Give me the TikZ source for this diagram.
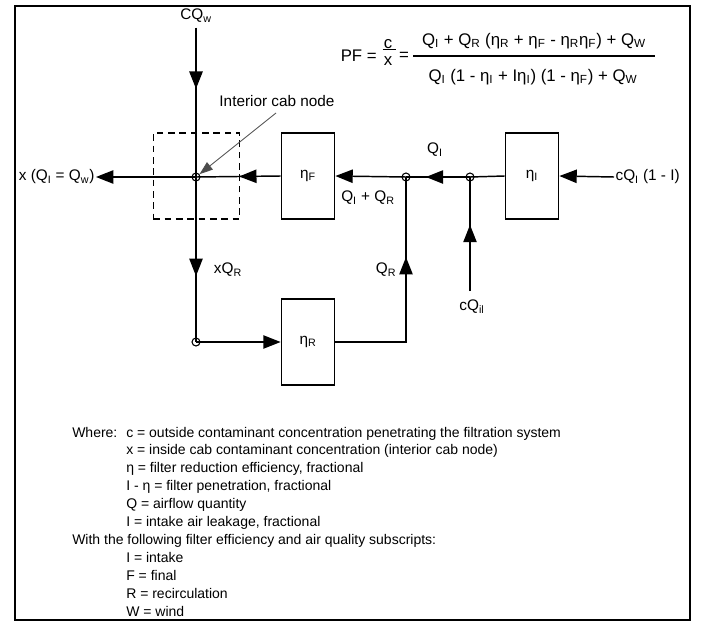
\documentclass[tikz,border=0pt]{standalone}
\usepackage{fontspec}
\setmainfont{Liberation Sans}
\usetikzlibrary{arrows.meta, positioning, decorations.markings}
\newcommand{\Qs}[1]{Q\textsubscript{#1}}
\newcommand{\Et}[1]{η\textsubscript{#1}}

\begin{document}
\begin{tikzpicture}[x=0.75pt, y=-0.75pt,
    font=\fontsize{11.5}{13}\selectfont,
    filt/.style={draw, line width=1.1pt, minimum width=40pt, minimum height=64.5pt, inner sep=0pt},
    junc/.style={circle, draw, line width=0.8pt, minimum size=6pt, inner sep=0pt},
    flow/.style={line width=1.1pt},
    endarr/.style={-{Triangle[length=13pt,width=10pt]}},
    midarr/.style={postaction={decorate}, decoration={markings,
        mark=at position #1 with {\arrow{Triangle[length=13pt,width=10pt]}}}},
    formula/.style={font=\fontsize{12.6}{14}\selectfont, inner sep=0pt},
    legend/.style={anchor=base west, font=\fontsize{10.5}{14}\selectfont, inner sep=0pt}]
\useasboundingbox (0,0) rectangle (703,621);
\begin{scope}
\clip (15,6) rectangle (690,620);

% filters and junctions
\node[filt] (etaF) at (308,176) {\Et{F}};
\node[filt] (etaI) at (532,176) {\Et{I}};
\node[filt] (etaR) at (308,342) {\Et{R}};
\node[draw, dashed, line width=0.9pt, dash pattern=on 5pt off 3.5pt,
      minimum width=65pt, minimum height=64.5pt] (cabzone) at (196.5,176) {};
\node[junc] (cab) at (196,177) {};
\node[junc] (mix) at (406,177) {};
\node[junc] (leak) at (470,177) {};
\node[junc] (split) at (196,342) {};

% labels
\node (cqw) at (196,16) {C\Qs{w}};
\node (cablab) at (277,101) {Interior cab node};
\node[anchor=east, inner sep=1pt] (outlab) at (96,177) {x (\Qs{I} = \Qs{w})};
\node[anchor=west, inner sep=1pt] (inlab) at (614,177) {c\Qs{I} (1 - I)};
\node (mixlab) at (368,198) {\Qs{I} + \Qs{R}};
\node (qilab) at (435,150) {\Qs{I}};
\node (xqrlab) at (228,270) {x\Qs{R}};
\node (qrlab) at (386,270) {\Qs{R}};
\node (cqil) at (472,307) {c\Qs{il}};
\coordinate (ilin) at (470,291);

% protection factor
\node[formula, anchor=east] (pfeq) at (377,56) {PF =};
\node[formula] (pfc) at (388,44) {c};
\node[formula] (pfx) at (388,61) {x};
\draw[line width=0.6pt] (pfc.south west) ++(-1,1) -- ++(13,0);
\node[formula] (pfeq2) at (404,56) {=};
\node[formula] (num) at (534,41) {\Qs{I} + \Qs{R} (\Et{R} + \Et{F} - \Et{R}\Et{F}) + \Qs{W}};
\node[formula] (den) at (533,77) {\Qs{I} (1 - \Et{I} + I\Et{I}) (1 - \Et{F}) + \Qs{W}};
\coordinate (barL) at (413,56);
\coordinate (barR) at (655,56);
\draw[line width=1pt] (barL) -- (barR);

% air flows
\draw[flow, midarr=0.41] (cqw.south) -- (cab.center);
\draw[flow, endarr] (cab.center) -- (outlab.east);
\draw[flow, midarr=0.49] (etaF.west) -- (cab.center);
\draw[flow, endarr] (mix.center) -- (etaF.east);
\draw[flow, midarr=0.69] (leak.center) -- (mix.center);
\draw[flow] (etaI.west) -- (leak.center);
\draw[flow, endarr] (inlab.west) -- (etaI.east);
\draw[flow, midarr=0.6] (cab.center) -- (split.center);
\draw[flow, endarr] (split.center) -- (etaR.west);
\draw[flow, midarr=0.66] (etaR.east) -| (mix.center);
\draw[flow, midarr=0.58] (ilin) -- (leak.center);
\draw[line width=0.6pt, black!70, -{Triangle[length=10pt,width=7pt]}] (276,113) -- (cab);

% definitions
\node[legend] (where) at (72,437) {Where:};
\foreach \t [count=\k from 0] in {{c = outside contaminant concentration penetrating the filtration system},
    {x = inside cab contaminant concentration (interior cab node)},
    {η = filter reduction efficiency, fractional},
    {I - η = filter penetration, fractional},
    {Q = airflow quantity},
    {I = intake air leakage, fractional}}
  \node[legend] (def\k) at (126,437+17.9*\k) {\t};
\node[legend] (with) at (72,437+17.9*6) {With the following filter efficiency and air quality subscripts:};
\foreach \t [count=\k from 7] in {{I = intake}, {F = final}, {R = recirculation}, {W = wind}}
  \node[legend] (def\k) at (126,437+17.9*\k) {\t};
\end{scope}
\draw[line width=1.5pt] (15,6) rectangle (690,620);
\end{tikzpicture}
\end{document}
